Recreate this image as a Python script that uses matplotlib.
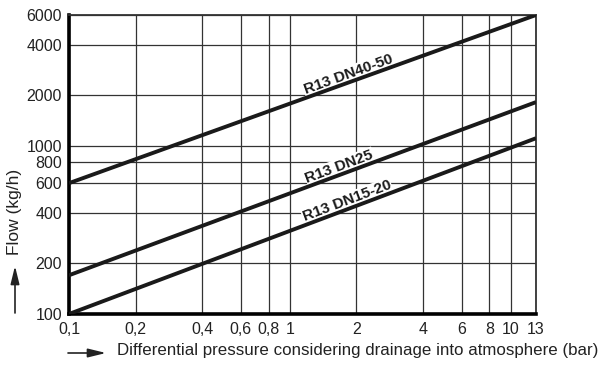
import matplotlib
matplotlib.use("Agg")
import matplotlib.pyplot as plt
import numpy as np

plt.rcParams['font.family'] = ['Liberation Sans', 'DejaVu Sans']

# eixos
x_ticks = [0.1, 0.2, 0.4, 0.6, 0.8, 1, 2, 4, 6, 8, 10, 13]
x_labels = ["0,1", "0,2", "0,4", "0,6", "0,8", "1", "2", "4", "6", "8", "10", "13"]
y_ticks = [100, 200, 400, 600, 800, 1000, 2000, 4000, 6000]
y_labels = ["100", "200", "400", "600", "800", "1000", "2000", "4000", "6000"]

# curvas (pontos extremos)
dp = [0.1, 13]
flow_dn40_50 = [600, 6000]
flow_dn25 = [170, 1820]
flow_dn15_20 = [100, 1110]

labels = ["R13 DN40-50", "R13 DN25", "R13 DN15-20"]
label_x = [1.88, 1.72, 1.86]

fig = plt.figure(figsize=(6.14, 3.66), dpi=100)
ax = fig.add_axes([69/614, 52/366, 467/614, 299/366])

ax.set_xscale('log')
ax.set_yscale('log')
ax.set_xlim(0.1, 13)
ax.set_ylim(100, 6000)

ax.set_xticks(x_ticks)
ax.set_xticklabels(x_labels)
ax.set_yticks(y_ticks)
ax.set_yticklabels(y_labels)
ax.minorticks_off()
ax.tick_params(axis='both', length=0, labelsize=11.5, colors='#222222')
ax.tick_params(axis='x', pad=6)
ax.tick_params(axis='y', pad=5)

ax.set_axisbelow(True)
ax.grid(True, color='#333333', lw=0.9)

for s in ['left', 'bottom']:
    ax.spines[s].set_linewidth(2.6)
for s in ['top', 'right']:
    ax.spines[s].set_linewidth(1.3)
    ax.spines[s].set_color('#333333')

series = [flow_dn40_50, flow_dn25, flow_dn15_20]
for flow in series:
    ax.plot(dp, flow, color='#1a1a1a', lw=2.8, zorder=3, solid_capstyle='butt')

fig.canvas.draw()
for flow, lab, lx in zip(series, labels, label_x):
    p0 = ax.transData.transform((dp[0], flow[0]))
    p1 = ax.transData.transform((dp[1], flow[1]))
    ang = np.degrees(np.arctan2(p1[1] - p0[1], p1[0] - p0[0]))
    ly = np.interp(np.log10(lx), np.log10(dp), np.log10(flow))
    ax.text(lx, 10**ly * 1.015, lab, rotation=ang, rotation_mode='anchor',
            ha='center', va='bottom', fontsize=11, fontweight='bold',
            color='#1a1a1a', zorder=2.5,
            bbox=dict(facecolor='white', edgecolor='none', pad=0.5))

fig.text(117/614, 1 - 351/366, "Differential pressure considering drainage into atmosphere (bar)",
         fontsize=12.2, ha='left', va='center', color='#222222')
fig.text(15/614, 1 - 212/366, "Flow (kg/h)", fontsize=12.5, rotation=90,
         ha='center', va='center', color='#222222')

# setas
fig.patches.append(matplotlib.patches.FancyArrowPatch(
    (68/614, 1 - 353/366), (106/614, 1 - 353/366), transform=fig.transFigure,
    arrowstyle='-|>,head_length=0.9,head_width=0.22', mutation_scale=12,
    lw=1.2, color='#222222', shrinkA=0, shrinkB=0))
fig.patches.append(matplotlib.patches.FancyArrowPatch(
    (15/614, 1 - 313/366), (15/614, 1 - 266/366), transform=fig.transFigure,
    arrowstyle='-|>,head_length=0.9,head_width=0.22', mutation_scale=12,
    lw=1.2, color='#222222', shrinkA=0, shrinkB=0))

fig.savefig("out.png", dpi=100)
